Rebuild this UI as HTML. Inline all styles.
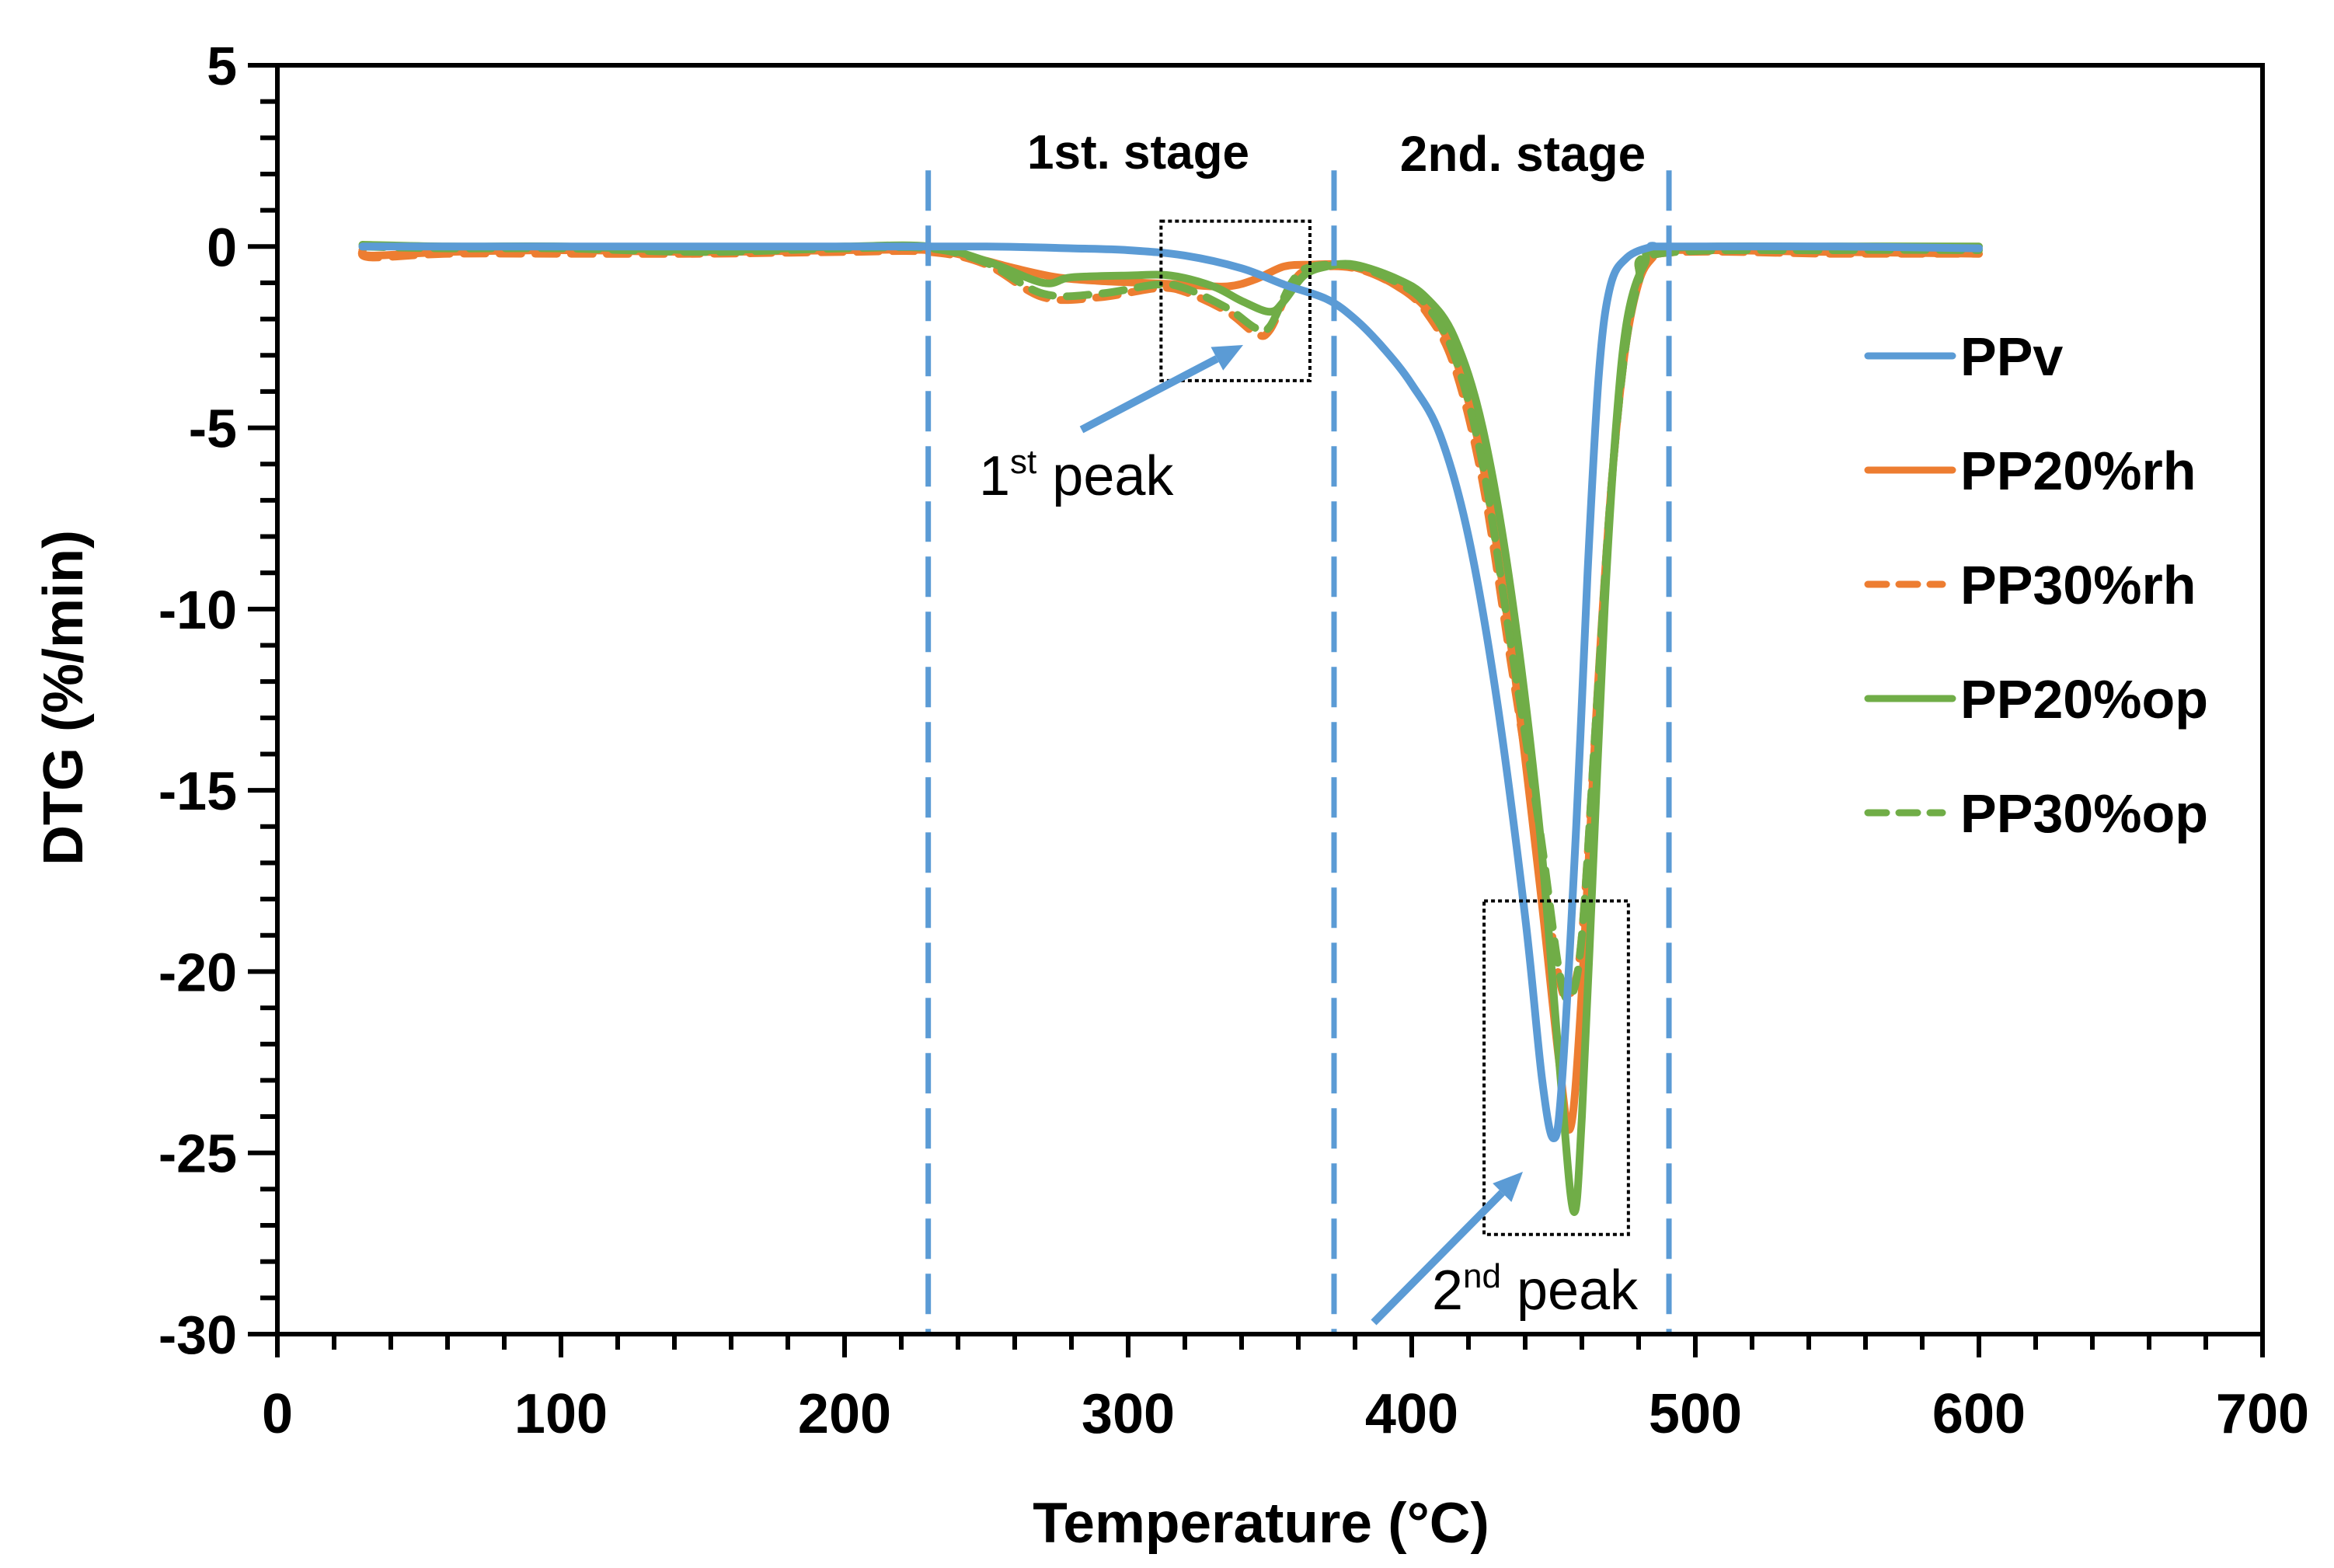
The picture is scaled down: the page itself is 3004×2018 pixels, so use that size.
<!DOCTYPE html>
<html><head><meta charset="utf-8">
<style>
html,body{margin:0;padding:0;background:#fff;}
svg{display:block;}
text{font-family:"Liberation Sans",sans-serif;}
</style></head>
<body>
<svg id="chart" width="3004" height="2018" viewBox="0 0 3004 2018" xmlns="http://www.w3.org/2000/svg">
<rect x="0" y="0" width="3004" height="2018" fill="#fff"/>
<g id="grid"></g>
<g id="series"></g>
<g id="annot"></g>
<g id="axes"></g>
<g id="legend"></g>
</svg>
<script>
const xTicks = [0,100,200,300,400,500,600,700];
const yTicks = [5,0,-5,-10,-15,-20,-25,-30];
const stageLines = [229.5, 372.6, 490.7];
const seriesNames = ["PPv","PP20%rh","PP30%rh","PP20%op","PP30%op"];
const ppvT = [30,60,100,150,200,250,280,300,320,340,355,370,380,390,400,410,420,430,440,446,450,453,458,462,466,470,476,485,490,550,600];
const ppvY = [0,0,0,0,0,0,-0.05,-0.1,-0.25,-0.6,-1.05,-1.45,-2.0,-2.8,-3.8,-5.2,-8,-12.5,-18.5,-23,-24.6,-23,-16,-9,-3.5,-1.1,-0.3,0,0,0,-0.05];
const rh20T = [30,33,60,100,150,200,230,245,260,275,290,305,320,335,345,355,365,375,385,395,405,415,425,435,445,452,456,460,465,470,475,480,485,490,550,600];
const rh20Y = [-0.1,-0.25,-0.15,-0.1,-0.15,-0.1,-0.1,-0.3,-0.6,-0.85,-0.95,-1.0,-1.05,-1.1,-0.9,-0.55,-0.5,-0.5,-0.7,-1.1,-1.7,-3.0,-6.0,-11,-17.5,-22.5,-24.3,-20.5,-13,-7,-3,-1,-0.3,-0.1,-0.15,-0.2];
const rh30T = [30,33,60,100,150,200,230,250,270,290,310,320,335,345,350,358,365,380,395,405,415,425,435,445,452,456,460,465,470,475,480,487,550,600];
const rh30Y = [-0.1,-0.3,-0.2,-0.2,-0.2,-0.15,-0.15,-0.5,-1.4,-1.4,-1.15,-1.25,-1.8,-2.4,-2.3,-1.0,-0.6,-0.6,-1.1,-1.8,-3.3,-6.5,-11.5,-16.5,-20.2,-20.6,-19,-13,-7,-3,-1,-0.2,-0.2,-0.2];
const op20T = [30,60,100,150,200,230,250,270,280,300,315,330,340,350,355,362,370,380,395,405,415,425,435,445,452,457,460,464,468,472,476,482,490,550,600];
const op20Y = [0.05,0,0,-0.1,0,0,-0.4,-1.0,-0.85,-0.8,-0.8,-1.1,-1.5,-1.8,-1.5,-0.8,-0.55,-0.5,-0.9,-1.4,-2.5,-5,-9.5,-16,-22.5,-26.6,-24,-17,-10,-5,-2,-0.5,-0.05,0,0];
const op30T = [30,60,100,150,200,230,250,270,290,310,320,335,345,350,358,365,380,395,405,415,425,435,445,452,456,460,465,470,475,480,487,550,600];
const op30Y = [0,-0.05,-0.05,-0.15,-0.05,-0.05,-0.45,-1.3,-1.3,-1.05,-1.15,-1.7,-2.25,-2.2,-0.95,-0.55,-0.55,-1.0,-1.6,-3.0,-6.0,-11,-16,-20,-20.7,-19,-13,-7,-3,-1,-0.2,-0.1,-0.1];

const L=357,R=2912,T=84,B=1717;
const X=v=>L+(v-0)/(700-0)*(R-L);
const Y=v=>T+(5-v)/(5-(-30))*(B-T);
const NS="http://www.w3.org/2000/svg";
function mk(tag,attrs,parent){const e=document.createElementNS(NS,tag);for(const k in attrs)e.setAttribute(k,attrs[k]);parent.appendChild(e);return e;}
const gS=document.getElementById('series'),gA=document.getElementById('axes'),gN=document.getElementById('annot'),gL=document.getElementById('legend');

stageLines.forEach((t,i)=>{
 const l=mk('line',{x1:X(t),x2:X(t),y1:Y(2.1),y2:B,stroke:'#5B9BD5','stroke-width':7,'stroke-dasharray':'52 19'},gN);
 
 
});

const colors=['#5B9BD5','#ED7D31','#ED7D31','#70AD47','#70AD47'];
const dashes=[null,null,'28 18',null,'28 18'];
const dataT=[ppvT,rh20T,rh30T,op20T,op30T];
const dataY=[ppvY,rh20Y,rh30Y,op20Y,op30Y];
const order=[2,1,4,3,0];
order.forEach(i=>{
 const pts=dataT[i].map((t,j)=>[X(t),Y(dataY[i][j])]);
 let d='M'+pts[0][0]+','+pts[0][1];
 for(let j=1;j<pts.length;j++){
  const p0=pts[Math.max(0,j-2)],p1=pts[j-1],p2=pts[j],p3=pts[Math.min(pts.length-1,j+1)];
  const c1x=p1[0]+(p2[0]-p0[0])/6,c1y=p1[1]+(p2[1]-p0[1])/6;
  const c2x=p2[0]-(p3[0]-p1[0])/6,c2y=p2[1]-(p3[1]-p1[1])/6;
  d+=' C'+c1x+','+c1y+' '+c2x+','+c2y+' '+p2[0]+','+p2[1];
 }
 const p=mk('path',{d:d,fill:'none',stroke:colors[i],'stroke-width':10,'stroke-linejoin':'round','stroke-linecap':'round'},gS);
 if(dashes[i])p.setAttribute('stroke-dasharray',dashes[i]);
 
 
});

const b1=mk('rect',{x:X(311.6),y:Y(0.7),width:X(364.1)-X(311.6),height:Y(-3.7)-Y(0.7),fill:'none',stroke:'#000','stroke-width':4,'stroke-dasharray':'5 4'},gN);


const b2=mk('rect',{x:X(425.5),y:Y(-18.05),width:X(476.4)-X(425.5),height:Y(-27.25)-Y(-18.05),fill:'none',stroke:'#000','stroke-width':4,'stroke-dasharray':'5 4'},gN);



function arrow(x1,y1,x2,y2,name){
 const g=mk('g',{},gN);
 
 
 const a=Math.atan2(y2-y1,x2-x1),hl=38,hw=17;
 const bx=x2-hl*Math.cos(a),by=y2-hl*Math.sin(a);
 mk('line',{x1:x1,y1:y1,x2:bx,y2:by,stroke:'#5B9BD5','stroke-width':10},g);
 mk('polygon',{points:`${x2},${y2} ${bx+hw*Math.sin(a)},${by-hw*Math.cos(a)} ${bx-hw*Math.sin(a)},${by+hw*Math.cos(a)}`,fill:'#5B9BD5'},g);
}
arrow(1392,553,1600,444,'first-peak-arrow');
arrow(1768,1702,1960,1508,'second-peak-arrow');

function txt(x,y,s,attrs,name){const e=mk('text',Object.assign({x:x,y:y},attrs),gN);e.textContent=s;return e;}
txt(1465,217,'1st. stage',{'font-size':62,'font-weight':'bold','text-anchor':'middle'},'first-stage-label');
txt(1960,220,'2nd. stage',{'font-size':64,'font-weight':'bold','text-anchor':'middle'},'second-stage-label');
const t1=txt(1260,637,'',{'font-size':72},'first-peak-label');
t1.innerHTML='1<tspan font-size="44" dy="-28">st</tspan><tspan dy="28"> peak</tspan>';
const t2=txt(1843,1685,'',{'font-size':72},'second-peak-label');
t2.innerHTML='2<tspan font-size="44" dy="-28">nd</tspan><tspan dy="28"> peak</tspan>';

mk('rect',{x:L,y:T,width:R-L,height:B-T,fill:'none',stroke:'#000','stroke-width':6},gA);
for(let v=-30;v<=5;v+=1){
 const major=v%5===0;
 mk('line',{x1:L-(major?38:22),x2:L,y1:Y(v),y2:Y(v),stroke:'#000','stroke-width':6},gA);
}
for(let v=0;v<=700;v+=20){
 const major=v%100===0;
 mk('line',{x1:X(v),x2:X(v),y1:B,y2:B+(major?30:20),stroke:'#000','stroke-width':6},gA);
}
yTicks.forEach(v=>{const e=mk('text',{x:L-52,y:Y(v)+25,'font-size':70,'font-weight':'bold','text-anchor':'end'},gA);e.textContent=v;});
xTicks.forEach(v=>{const e=mk('text',{x:X(v),y:B+127,'font-size':72,'font-weight':'bold','text-anchor':'middle'},gA);e.textContent=v;});
const xt=mk('text',{x:1623,y:1985,'font-size':73,'font-weight':'bold','text-anchor':'middle'},gA);
xt.textContent='Temperature (°C)';


const yt=mk('text',{x:0,y:0,'font-size':72,'font-weight':'bold','text-anchor':'middle',transform:'translate(106,898) rotate(-90)'},gA);
yt.textContent='DTG (%/min)';



seriesNames.forEach((n,i)=>{
 const y=458+i*147;
 const g=mk('g',{},gL);
 
 
 const ln=mk('line',{x1:2404,x2:dashes[i]?2500:2513,y1:y,y2:y,stroke:colors[i],'stroke-width':9,'stroke-linecap':'round'},g);
 if(dashes[i])ln.setAttribute('stroke-dasharray','24 16');
 const t=mk('text',{x:2523,y:y+25,'font-size':70,'font-weight':'bold','font-family':'"DejaVu Sans",sans-serif'},g);
 t.textContent=n;
});
</script>
</body></html>
